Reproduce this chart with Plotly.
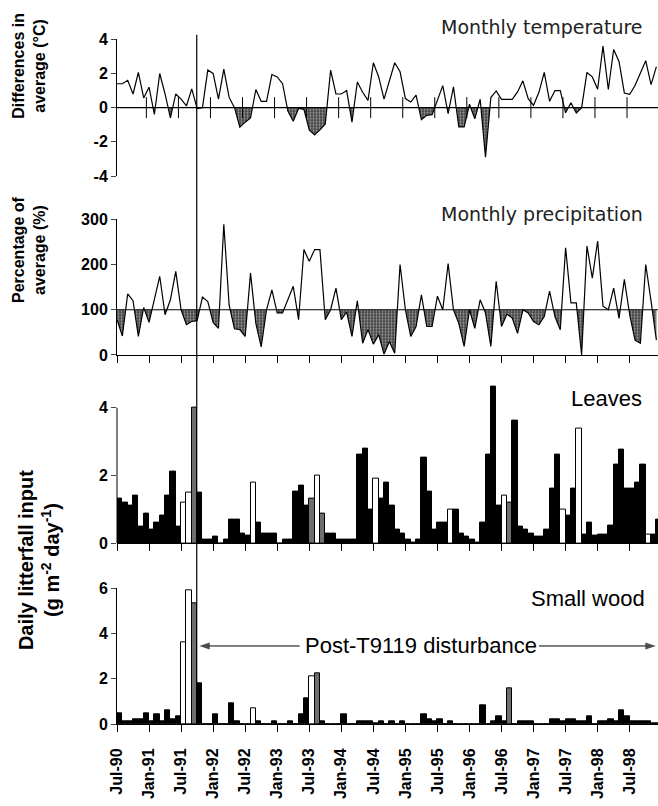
import plotly.graph_objects as go

# ---------------- data ----------------
tick_months = [0, 6, 12, 18, 24, 30, 36, 42, 48, 54, 60, 66, 72, 78, 84, 90, 96]
tick_labels = ["Jul-90", "Jan-91", "Jul-91", "Jan-92", "Jul-92", "Jan-93", "Jul-93", "Jan-94",
               "Jul-94", "Jan-95", "Jul-95", "Jan-96", "Jul-96", "Jan-97", "Jul-97", "Jan-98", "Jul-98"]
temp_ticks = [-4, -2, 0, 2, 4]
temp_tick_labels = ["-4", "-2", "0", "2", "4"]

# monthly temperature difference from average (deg C), one value per month from Jul-90
temp_diff = [1.4, 1.4, 1.6, 0.8, 2.06, 0.57, 1.2, -0.4, 2.0, 0.8, -0.6, 0.8, 0.5, 0.1, 1.1, -0.05,
             0.0, 2.2, 2.0, 0.5, 2.25, 0.6, 0.0, -1.14, -0.85, -0.6, 1.06, 0.37, 0.37, 1.94, 1.8, 1.4,
             -0.2, -0.8, -0.05, -0.1, -1.3, -1.6, -1.3, -0.95, 2.2, 0.8, 0.8, 1.0, -0.85, 1.5, 0.9, 0.43,
             2.63, 1.8, 0.5, 1.5, 2.63, 2.1, 0.53, 0.33, 0.73, -0.7, -0.45, -0.41, 0.4, 1.29, -0.35, 1.22,
             -1.13, -1.13, 0.2, -0.65, 0.49, -2.9, 0.59, 0.98, 0.49, 0.49, 0.49, 0.92, 1.57, 0.53, 0.14,
             0.9, 2.06, 0.37, 1.0, 1.0, -0.3, 0.29, -0.31, 0.0, 2.06, 1.8, 1.08, 3.6, 1.06, 3.41, 2.7,
             0.86, 0.78, 1.3, 2.0, 2.75, 1.35, 2.4]

# monthly precipitation as percentage of average (%)
precip_pct = [78, 42, 135, 120, 41, 105, 72, 122, 174, 89, 122, 185, 100, 67, 74, 76, 128, 118, 72, 59,
              289, 110, 58, 56, 41, 181, 70, 18, 100, 144, 93, 93, 122, 152, 78, 233, 207, 233, 233, 78,
              100, 148, 78, 95, 41, 120, 26, 56, 24, 45, 2, 30, 4, 200, 100, 41, 63, 133, 63, 63, 130,
              100, 202, 100, 70, 19, 100, 59, 122, 93, 19, 163, 63, 90, 82, 48, 100, 93, 74, 67, 85, 141,
              85, 56, 237, 115, 115, 0, 241, 170, 252, 108, 100, 148, 81, 167, 89, 33, 26, 200, 119, 33]

# daily litterfall input (g m-2 day-1), monthly; status 0 = measured, 1 = open bar, 2 = grey bar
leaves = [1.33, 1.2, 1.1, 1.42, 0.5, 0.88, 0.4, 0.6, 0.82, 1.42, 2.12, 0.5, 1.2, 1.5, 4.0, 1.51,
          0.1, 0.1, 0.2, 0.0, 0.1, 0.7, 0.7, 0.3, 0.22, 1.8, 0.6, 0.3, 0.3, 0.3, 0.0, 0.1, 0.1, 1.52,
          1.7, 1.11, 1.31, 2.0, 0.88, 0.29, 0.29, 0.1, 0.1, 0.1, 0.1, 2.62, 2.79, 0.99, 1.91, 1.32,
          1.8, 1.1, 0.39, 0.29, 0.12, 0.03, 0.1, 2.52, 1.52, 0.39, 0.6, 0.6, 0.98, 0.98, 0.29, 0.2,
          0.1, 0.02, 0.61, 2.63, 4.62, 1.1, 1.41, 1.19, 3.62, 0.5, 0.39, 0.3, 0.2, 0.2, 0.39, 1.6,
          2.63, 0.98, 0.82, 1.6, 3.39, 0.27, 0.61, 0.22, 0.27, 0.27, 0.51, 2.31, 2.75, 1.6, 1.6, 1.8,
          2.31, 0.27, 0.27, 0.7]
leaves_status = [0] * 102
for m in [12, 13, 25, 37, 48, 62, 72, 83, 86, 99]:
    leaves_status[m] = 1
for m in [14, 36, 38, 73]:
    leaves_status[m] = 2

small_wood = [0.49, 0.1, 0.1, 0.2, 0.2, 0.47, 0.1, 0.43, 0.1, 0.59, 0.2, 0.32, 3.6, 5.9, 5.32, 1.8,
              0, 0, 0.43, 0, 0, 0.9, 0.1, 0, 0, 0.69, 0.1, 0, 0, 0.1, 0, 0, 0.1, 0, 0.43, 1.14, 2.12,
              2.23, 0.1, 0, 0, 0, 0.43, 0, 0, 0.1, 0.1, 0.1, 0.05, 0.1, 0, 0.1, 0, 0.1, 0, 0, 0, 0.43,
              0.2, 0.1, 0.2, 0, 0.1, 0, 0, 0, 0, 0, 0.81, 0, 0.1, 0.32, 0.1, 1.59, 0, 0.1, 0.1, 0.1, 0,
              0, 0, 0.2, 0.2, 0.1, 0.2, 0.2, 0.1, 0.1, 0.32, 0, 0.1, 0.1, 0.2, 0.1, 0.59, 0.32, 0.1,
              0.1, 0.1, 0.1, 0.05, 0.05]
wood_status = [0] * 102
for m in [12, 13, 25, 36]:
    wood_status[m] = 1
for m in [14, 37, 73]:
    wood_status[m] = 2

disturbance_month = 14.93   # typhoon T9119, late Sep 1991
temp_base = 0
precip_base = 100

# arrow / label for the post-disturbance period (month positions, small-wood units)
arrow_level = 3.45
label_month = 56.9
left_arrow = [34.2, 15.4]     # tail, head
right_arrow = [79.0, 100.9]   # tail, head

# ---------------- helpers ----------------
months = list(range(len(temp_diff)))
bar_x = [m + 0.5 for m in range(len(leaves))]
status_colors = {0: "black", 1: "white", 2: "#6e6e6e"}


def below_polygon(xs, ys, base):
    px, py = [xs[0]], [base]
    for i in range(len(xs)):
        if i > 0:
            y0, y1 = ys[i - 1], ys[i]
            if (y0 - base) * (y1 - base) < 0:
                t = (base - y0) / (y1 - y0)
                px.append(xs[i - 1] + t * (xs[i] - xs[i - 1]))
                py.append(base)
        px.append(xs[i])
        py.append(min(ys[i], base))
    px.append(xs[-1])
    py.append(base)
    return px, py


fig = go.Figure()
fill_pattern = dict(shape=".", fgcolor="white", bgcolor="#454545", size=3, solidity=0.35)

# temperature
tx, ty = below_polygon(months, temp_diff, temp_base)
fig.add_trace(go.Scatter(x=tx, y=ty, fill="toself", mode="none", fillcolor="#707070",
                         fillpattern=fill_pattern, xaxis="x4", yaxis="y4", hoverinfo="skip"))
fig.add_trace(go.Scatter(x=months, y=temp_diff, mode="lines", line=dict(color="black", width=1.2),
                         xaxis="x4", yaxis="y4"))
fig.add_trace(go.Scatter(x=[t - 0.5 for t in tick_months[1:]], y=[temp_base] * (len(tick_months) - 1),
                         mode="markers", marker=dict(symbol="line-ns", size=15,
                                                     line=dict(color="black", width=1)),
                         xaxis="x4", yaxis="y4", hoverinfo="skip"))

# precipitation
px_, py_ = below_polygon(months, precip_pct, precip_base)
fig.add_trace(go.Scatter(x=px_, y=py_, fill="toself", mode="none", fillcolor="#707070",
                         fillpattern=fill_pattern, xaxis="x3", yaxis="y3", hoverinfo="skip"))
fig.add_trace(go.Scatter(x=months, y=precip_pct, mode="lines", line=dict(color="black", width=1.2),
                         xaxis="x3", yaxis="y3"))

# leaves
fig.add_trace(go.Bar(x=bar_x, y=leaves, width=1,
                     marker=dict(color=[status_colors[s] for s in leaves_status],
                                 line=dict(color="black", width=1)),
                     xaxis="x2", yaxis="y2"))
# small wood
fig.add_trace(go.Bar(x=bar_x, y=small_wood, width=1,
                     marker=dict(color=[status_colors[s] for s in wood_status],
                                 line=dict(color="black", width=1)),
                     xaxis="x", yaxis="y"))

# disturbance arrows (line with arrow-head marker at the head end)
for seg in (left_arrow, right_arrow):
    fig.add_trace(go.Scatter(x=seg, y=[arrow_level, arrow_level], mode="lines+markers",
                             line=dict(color="black", width=1),
                             marker=dict(symbol="arrow", size=[0, 11], angleref="previous",
                                         color="black", line=dict(width=0)),
                             xaxis="x", yaxis="y", hoverinfo="skip", cliponaxis=False))

tickfont = dict(family="Liberation Sans, Arial, sans-serif", size=16, color="black", weight="bold")
xr = [0, 101.3]
common_x = dict(range=xr, showgrid=False, zeroline=False, tickvals=tick_months, linecolor="black",
                linewidth=1, ticklen=7, tickcolor="black", tickwidth=1)
fig.update_layout(
    width=658, height=806, margin=dict(l=117, r=0, t=0, b=82, autoexpand=False),
    paper_bgcolor="white", plot_bgcolor="white", showlegend=False, bargap=0,
    xaxis=dict(**common_x, anchor="y", ticktext=tick_labels, ticks="outside", showline=True,
               tickangle=-90, tickfont=tickfont, ticklabelstandoff=10, automargin=False),
    xaxis2=dict(**common_x, anchor="y2", matches="x", ticks="outside", showline=True,
                showticklabels=False),
    xaxis3=dict(**common_x, anchor="y3", matches="x", ticks="outside", showline=True,
                showticklabels=False),
    xaxis4=dict(**common_x, anchor="y4", matches="x", ticks="", showline=False,
                showticklabels=False),
    yaxis=dict(domain=[0, 0.1874], range=[0, 6], tickvals=[0, 2, 4, 6], ticks="outside", ticklen=5,
               showline=True, linecolor="black", showgrid=False, zeroline=False, tickfont=tickfont),
    yaxis2=dict(domain=[0.2496, 0.4743], range=[0, 4.8], tickvals=[0, 2, 4], ticks="outside",
                ticklen=5, showline=False, showgrid=False, zeroline=False, tickfont=tickfont),
    yaxis3=dict(domain=[0.5097, 0.6971], range=[0, 300], tickvals=[0, 100, 200, 300], ticks="outside",
                ticklen=5, showline=True, linecolor="black", showgrid=False, zeroline=False,
                tickfont=tickfont),
    yaxis4=dict(domain=[0.7569, 0.9457], range=[-4, 4], tickvals=temp_ticks, ticktext=temp_tick_labels,
                ticks="outside", ticklen=5, showline=True, linecolor="black", showgrid=False,
                zeroline=False, tickfont=tickfont),
)

# reference lines and axis decorations
fig.add_shape(type="line", xref="x4 domain", x0=0, x1=1, yref="y4", y0=temp_base, y1=temp_base,
              line=dict(color="black", width=1.2))
fig.add_shape(type="line", xref="x3 domain", x0=0, x1=1, yref="y3", y0=precip_base, y1=precip_base,
              line=dict(color="black", width=1.2))
fig.add_shape(type="line", xref="x2 domain", x0=0, x1=0, yref="y2", y0=0, y1=4,
              line=dict(color="black", width=1))
fig.add_shape(type="line", xref="x", x0=disturbance_month, x1=disturbance_month, yref="paper",
              y0=0, y1=0.952, line=dict(color="black", width=1.2))

# panel titles
dv = dict(family="DejaVu Sans, Verdana, sans-serif", size=19, color="#222")
ar = dict(family="Liberation Sans, Arial, sans-serif", size=22, color="black")
fig.add_annotation(text="Monthly temperature", xref="paper", yref="paper", x=0.976, y=0.9627,
                   xanchor="right", yanchor="middle", showarrow=False, font=dv)
fig.add_annotation(text="Monthly precipitation", xref="paper", yref="paper", x=0.976, y=0.7044,
                   xanchor="right", yanchor="middle", showarrow=False, font=dv)
fig.add_annotation(text="Leaves", xref="paper", yref="paper", x=0.974, y=0.4496,
                   xanchor="right", yanchor="middle", showarrow=False, font=ar)
fig.add_annotation(text="Small wood", xref="paper", yref="paper", x=0.979, y=0.1733,
                   xanchor="right", yanchor="middle", showarrow=False, font=ar)
fig.add_annotation(text="Post-T9119 disturbance", xref="x", yref="y", x=label_month, y=arrow_level,
                   showarrow=False, font=ar, xanchor="center", yanchor="middle")

# y-axis titles
boldf = dict(family="Liberation Sans, Arial, sans-serif", size=16, color="black", weight="bold")
fig.add_annotation(text="Differences in<br>average (°C)", xref="paper", yref="paper", x=-0.1627,
                   y=0.909, textangle=-90, showarrow=False, font=boldf, xanchor="center",
                   yanchor="middle")
fig.add_annotation(text="Percentage of<br>average (%)", xref="paper", yref="paper", x=-0.1627,
                   y=0.6547, textangle=-90, showarrow=False, font=boldf, xanchor="center",
                   yanchor="middle")
fig.add_annotation(text="Daily litterfall input<br>(g m<sup>-2</sup> day<sup>-1</sup>)", xref="paper",
                   yref="paper", x=-0.144, y=0.2265, textangle=-90, showarrow=False,
                   font=dict(family="Liberation Sans, Arial, sans-serif", size=20, color="black",
                             weight="bold"),
                   xanchor="center", yanchor="middle")

fig.write_html("out.html", config={"displayModeBar": False})

# remove the default page margin so the figure sits at the window origin
with open("out.html", "r", encoding="utf-8") as f:
    html = f.read()
html = html.replace("<body>", '<body style="margin:0;padding:0;overflow:hidden">', 1)
with open("out.html", "w", encoding="utf-8") as f:
    f.write(html)
